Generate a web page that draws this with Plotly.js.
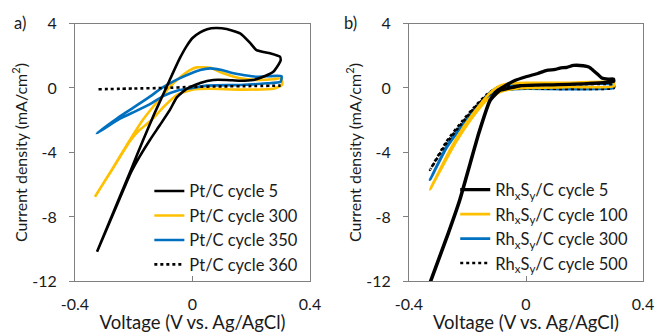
<!DOCTYPE html>
<html>
<head>
<meta charset="utf-8">
<script src="https://cdn.plot.ly/plotly-3.0.1.min.js"></script>
<style>html,body{margin:0;padding:0;background:#fff;}#chart{width:655px;height:333px;}</style>
</head>
<body>
<div id="chart"></div>
<script>
// ---------- Panel a) Pt/C ----------
const ptNames = ["Pt/C cycle 5", "Pt/C cycle 300", "Pt/C cycle 350", "Pt/C cycle 360"];
const pt5_v = [-0.325, -0.25, -0.21, -0.168, -0.13, -0.105, -0.088, -0.065, -0.043, -0.02, 0.0, 0.026, 0.05, 0.08, 0.116, 0.162, 0.196, 0.218, 0.264, 0.298, 0.300, 0.292, 0.275, 0.241, 0.207, 0.162, 0.116, 0.071, 0.026, -0.02, -0.054, -0.077, -0.111, -0.145, -0.18, -0.21, -0.25, -0.325];
const pt5_j = [-10.15, -6.85, -5.1, -3.22, -1.6, -0.6, 0.08, 1.0, 1.85, 2.6, 3.1, 3.45, 3.65, 3.72, 3.66, 3.39, 2.8, 2.35, 2.15, 1.94, 1.7, 1.43, 1.01, 0.70, 0.50, 0.45, 0.50, 0.50, 0.31, -0.05, -0.6, -1.36, -2.3, -3.22, -4.25, -5.25, -6.95, -10.15];
const pt300_v = [-0.332, -0.275, -0.213, -0.17, -0.134, -0.1, -0.077, -0.04, -0.01, 0.014, 0.06, 0.105, 0.162, 0.218, 0.275, 0.303, 0.305, 0.275, 0.162, 0.06, 0.0, -0.05, -0.1, -0.14, -0.18, -0.213, -0.275, -0.332];
const pt300_j = [-6.74, -5.08, -3.22, -2.0, -1.16, -0.45, 0.08, 0.7, 1.1, 1.28, 1.25, 0.91, 0.60, 0.50, 0.54, 0.6, 0.19, -0.05, -0.1, -0.05, -0.1, -0.4, -1.2, -2.0, -2.6, -3.3, -5.1, -6.74];
const pt350_v = [-0.326, -0.247, -0.2, -0.15, -0.1, -0.05, 0.0, 0.026, 0.06, 0.10, 0.139, 0.218, 0.303, 0.300, 0.253, 0.162, 0.048, 0.0, -0.05, -0.1, -0.15, -0.2, -0.247, -0.326];
const pt350_j = [-2.81, -1.75, -1.2, -0.6, 0.05, 0.55, 0.95, 1.12, 1.22, 1.12, 0.91, 0.70, 0.74, 0.39, 0.29, 0.19, 0.15, 0.0, -0.15, -0.5, -1.05, -1.5, -1.9, -2.81];
const pt360_v = [-0.32, -0.2, -0.1, 0.0, 0.1, 0.2, 0.3];
const pt360_j = [-0.08, -0.03, 0.0, 0.07, 0.1, 0.12, 0.15];

// ---------- Panel b) RhxSy/C ----------
const rhNames = ["Rh<sub>x</sub>S<sub>y</sub>/C cycle 5", "Rh<sub>x</sub>S<sub>y</sub>/C cycle 100", "Rh<sub>x</sub>S<sub>y</sub>/C cycle 300", "Rh<sub>x</sub>S<sub>y</sub>/C cycle 500"];
const rh5_v = [-0.335, -0.266, -0.226, -0.19, -0.16, -0.123, -0.1, -0.075, -0.04, 0.0, 0.04, 0.071, 0.1, 0.116, 0.14, 0.162, 0.196, 0.215, 0.23, 0.245, 0.259, 0.28, 0.299, 0.30, 0.208, 0.093, -0.02, -0.055, -0.089, -0.123, -0.16, -0.19, -0.226, -0.266, -0.335];
const rh5_j = [-12.4, -9.0, -6.9, -4.6, -2.7, -0.75, -0.2, 0.1, 0.45, 0.7, 0.9, 1.09, 1.15, 1.24, 1.28, 1.40, 1.38, 1.3, 1.09, 0.85, 0.62, 0.55, 0.56, 0.41, 0.27, 0.20, 0.14, 0.0, -0.15, -0.8, -2.75, -4.65, -6.95, -9.05, -12.45];
const rh100_v = [-0.328, -0.26, -0.22, -0.18, -0.134, -0.11, -0.089, -0.06, 0.0, 0.15, 0.3, 0.3, 0.15, 0.0, -0.06, -0.089, -0.134, -0.18, -0.22, -0.26, -0.328];
const rh100_j = [-6.3, -3.84, -2.6, -1.57, -0.52, -0.1, 0.15, 0.28, 0.32, 0.33, 0.35, 0.1, 0.06, 0.0, -0.1, -0.25, -0.75, -1.75, -2.8, -4.0, -6.3];
const rh300_v = [-0.328, -0.271, -0.22, -0.18, -0.134, -0.1, -0.07, 0.0, 0.3, 0.3, 0.0, -0.07, -0.1, -0.134, -0.18, -0.22, -0.271, -0.328];
const rh300_j = [-5.7, -3.6, -2.3, -1.4, -0.45, 0.0, 0.15, 0.18, 0.2, 0.0, -0.05, -0.1, -0.2, -0.6, -1.5, -2.4, -3.7, -5.7];
const rh500_v = [-0.328, -0.271, -0.22, -0.18, -0.134, -0.1, -0.07, 0.0, 0.3, 0.3, 0.0, -0.07, -0.1, -0.134, -0.18, -0.22, -0.271, -0.328];
const rh500_j = [-5.08, -3.3, -2.1, -1.25, -0.4, 0.0, 0.12, 0.15, 0.2, 0.0, -0.03, -0.08, -0.15, -0.5, -1.3, -2.2, -3.4, -5.08];

const xTicks = [-0.4, 0, 0.4];
const xTickText = ["-0.4", "0", "0.4"];
const yTicks = [-12, -8, -4, 0, 4];
const yTickText = ["-12", "-8", "-4", "0", "4"];

const BLACK = "#000000", YELLOW = "#FFC000", BLUE = "#0070C0";
const FONT = "Lato, 'Open Sans', sans-serif";
const TXT = "#1a1a1a";

function tr(x, y, name, color, width, dash, xa, ya, leg, rank) {
  return {x: x, y: y, name: name, type: "scatter", mode: "lines",
    line: {color: color, width: width, dash: dash, shape: "spline", smoothing: 0.45},
    xaxis: xa, yaxis: ya, legend: leg, legendrank: rank, hoverinfo: "skip"};
}

const data = [
  tr(pt300_v, pt300_j, ptNames[1], YELLOW, 2.6, "solid", "x", "y", "legend", 2),
  tr(pt350_v, pt350_j, ptNames[2], BLUE, 2.6, "solid", "x", "y", "legend", 3),
  tr(pt5_v, pt5_j, ptNames[0], BLACK, 2.6, "solid", "x", "y", "legend", 1),
  tr(pt360_v, pt360_j, ptNames[3], BLACK, 2.6, "dot", "x", "y", "legend", 4),
  tr(rh300_v, rh300_j, rhNames[2], BLUE, 2.6, "solid", "x2", "y2", "legend2", 3),
  tr(rh500_v, rh500_j, rhNames[3], BLACK, 2.6, "dot", "x2", "y2", "legend2", 4),
  tr(rh100_v, rh100_j, rhNames[1], YELLOW, 2.6, "solid", "x2", "y2", "legend2", 2),
  tr(rh5_v, rh5_j, rhNames[0], BLACK, 3.3, "solid", "x2", "y2", "legend2", 1)
];

function xax(domain, anchor) {
  return {domain: domain, anchor: anchor, range: [-0.4, 0.4], tickvals: xTicks, ticktext: xTickText,
    ticks: "inside", ticklen: 5, tickcolor: "#808080", ticklabelstandoff: 8,
    showline: true, mirror: true, linecolor: "#808080", linewidth: 1,
    showgrid: false, zeroline: false, tickfont: {family: FONT, size: 16, color: TXT},
    title: {text: "Voltage (V vs. Ag/AgCl)", standoff: 1, font: {family: FONT, size: 18.5, color: TXT}}};
}
function yax(anchor) {
  return {domain: [0.1547, 0.9294], anchor: anchor, range: [-12, 4], tickvals: yTicks, ticktext: yTickText,
    ticks: "outside", ticklen: 5, tickcolor: "#808080", ticklabelstandoff: 9,
    showline: true, mirror: true, linecolor: "#808080", linewidth: 1,
    showgrid: false, zeroline: false, tickfont: {family: FONT, size: 16, color: TXT},
    title: {text: "Current density (mA/cm<sup>2</sup>)", standoff: 0, font: {family: FONT, size: 16, color: TXT}}};
}

const legendBase = {yanchor: "top", xanchor: "left", bgcolor: "rgba(0,0,0,0)", borderwidth: 0,
  font: {family: FONT, size: 16.5, color: TXT}, traceorder: "normal", itemwidth: 30};

const layout = {
  width: 655, height: 333,
  margin: {l: 0, r: 0, t: 0, b: 0},
  paper_bgcolor: "#fff", plot_bgcolor: "#fff",
  showlegend: true,
  xaxis: xax([0.1145, 0.4733], "y"),
  yaxis: yax("x"),
  xaxis2: xax([0.6244, 0.9817], "y2"),
  yaxis2: yax("x2"),
  legend: Object.assign({x: 0.228, y: 0.478}, legendBase),
  legend2: Object.assign({x: 0.695, y: 0.482}, legendBase),
  annotations: [
    {text: "a)", x: 0.031, y: 0.932, xref: "paper", yref: "paper", xanchor: "center", yanchor: "middle", showarrow: false, font: {family: FONT, size: 16.5, color: TXT}},
    {text: "b)", x: 0.535, y: 0.932, xref: "paper", yref: "paper", xanchor: "center", yanchor: "middle", showarrow: false, font: {family: FONT, size: 16.5, color: TXT}}
  ]
};

Plotly.newPlot("chart", data, layout, {staticPlot: true, displayModeBar: false});
</script>
</body>
</html>
